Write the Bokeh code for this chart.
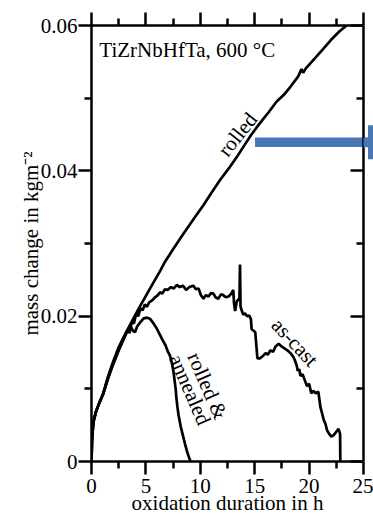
from bokeh.plotting import figure
from bokeh.models import (LinearAxis, FixedTicker, Arrow, NormalHead, Label,
                          CustomJSTickFormatter)
from bokeh.embed import file_html
from bokeh.resources import INLINE

# ---- data: oxidation of TiZrNbHfTa at 600 °C (time in h, mass change in kg m^-2)
rolled_t = [0, 0.05, 0.17, 0.4, 0.7, 1.08, 1.5, 1.9, 2.46, 3.08, 3.69, 4.4, 5.0,
            5.53, 6.3, 6.76, 7.5, 8.2, 8.75, 9.5, 10.3, 11.0, 11.8, 12.6, 13.4,
            14.0, 14.7, 15.5, 16.3, 17.0, 17.7, 18.3, 19.0, 19.3, 19.45, 19.7,
            20.3, 21.2, 22.0, 22.8, 23.45]
rolled_m = [0, 0.0030, 0.0054, 0.0068, 0.0080, 0.0094, 0.0116, 0.0134, 0.0156,
            0.0175, 0.0192, 0.0212, 0.0228, 0.0242, 0.0262, 0.0275, 0.0292,
            0.0308, 0.0320, 0.0336, 0.0353, 0.0369, 0.0387, 0.0403, 0.0420,
            0.0434, 0.0450, 0.0466, 0.0481, 0.0495, 0.0505, 0.0516, 0.0530,
            0.0540, 0.0535, 0.0541, 0.0551, 0.0566, 0.0580, 0.0592, 0.0600]

ascast_t = [0, 0.05, 0.17, 0.4, 0.7, 1.08, 1.5, 1.9, 2.46, 3.0, 3.3, 3.5, 3.7,
            3.9, 4.1, 4.3, 4.5, 4.7, 4.9, 5.1, 5.3, 5.6, 5.85, 6.1, 6.3, 6.5,
            6.75, 7.0, 7.3, 7.55, 7.85, 8.1, 8.4, 8.7, 9.0, 9.35, 9.6, 9.85,
            10.05, 10.3, 10.5, 10.75, 11.0, 11.2, 11.4, 11.65, 11.9, 12.1,
            12.35, 12.6, 12.85, 13.03, 13.1, 13.2, 13.35, 13.5, 13.6, 13.65,
            13.7, 13.85, 13.95, 14.1, 14.3, 14.5, 14.65, 14.72, 14.9, 15.05,
            15.15, 15.25, 15.5, 15.8, 16.0, 16.2, 16.45, 16.7, 16.9, 17.2, 17.5,
            17.8, 18.0, 18.3, 18.55, 18.7, 18.86, 18.95, 19.1, 19.2, 19.4, 19.6,
            19.8, 20.0, 20.2, 20.4, 20.6, 20.85, 20.95, 21.05, 21.2, 21.35,
            21.5, 21.65, 21.85, 22.05, 22.3, 22.5, 22.7, 22.85, 22.87]
ascast_m = [0, 0.0030, 0.0054, 0.0068, 0.0080, 0.0093, 0.0114, 0.0131, 0.0152,
            0.0170, 0.0180, 0.0177, 0.0192, 0.0190, 0.0203, 0.0200, 0.0211,
            0.0208, 0.0216, 0.0213, 0.0219, 0.0222, 0.0226, 0.0229, 0.0233,
            0.0231, 0.0237, 0.0236, 0.0240, 0.0238, 0.0243, 0.0240, 0.0242,
            0.0236, 0.0240, 0.0242, 0.0237, 0.0238, 0.0229, 0.0224, 0.0229,
            0.0227, 0.0232, 0.0231, 0.0226, 0.0224, 0.0230, 0.0229, 0.0226,
            0.0227, 0.0231, 0.0236, 0.0218, 0.0207, 0.0220, 0.0223, 0.0225,
            0.0271, 0.0213, 0.0206, 0.0202, 0.0204, 0.0200, 0.0201, 0.0196,
            0.0182, 0.0180, 0.0178, 0.0160, 0.0142, 0.0142, 0.0146, 0.0149,
            0.0147, 0.0153, 0.0151, 0.0158, 0.0162, 0.0158, 0.0155, 0.0153,
            0.0149, 0.0144, 0.0139, 0.0132, 0.0125, 0.0127, 0.0118, 0.0120,
            0.0112, 0.0104, 0.0107, 0.0094, 0.0097, 0.0094, 0.0096, 0.0085,
            0.0074, 0.0066, 0.0057, 0.0052, 0.0043, 0.0038, 0.0034, 0.0037,
            0.0041, 0.0045, 0.0038, 0.0]

annealed_t = [0, 0.05, 0.17, 0.4, 0.7, 1.08, 1.5, 1.9, 2.5, 3.0, 3.3, 3.6, 3.8,
              4.0, 4.2, 4.5, 4.8, 5.1, 5.4, 5.7, 6.0, 6.2, 6.5, 6.8, 7.0, 7.2,
              7.4, 7.55, 7.65, 7.75, 7.8, 7.9, 8.0, 8.2, 8.4, 8.6, 8.8, 9.0, 9.1]
annealed_m = [0, 0.0030, 0.0054, 0.0068, 0.0080, 0.0093, 0.0113, 0.0130,
              0.0153, 0.0170, 0.0180, 0.0186, 0.0180, 0.0178, 0.0186, 0.0192,
              0.0197, 0.0198, 0.0196, 0.0190, 0.0183, 0.0177, 0.0168, 0.0160,
              0.0152, 0.0146, 0.0135, 0.0122, 0.0110, 0.0098, 0.0088, 0.0075,
              0.0064, 0.0048, 0.0036, 0.0024, 0.0013, 0.0004, 0.0]

x_ticks = [0, 5, 10, 15, 20, 25]
x_minor_ticks = [2.5, 7.5, 12.5, 17.5, 22.5]
y_ticks = [0, 0.02, 0.04, 0.06]
y_minor_ticks = [0.01, 0.03, 0.05]
y_tick_labels = ["0", "0.02", "0.04", "0.06"]

FONT = "Liberation Serif"
BLUE = "#4a78b5"
POINTER_Y = 0.04395   # height of the blue pointer

p = figure(width=373, height=517, x_range=(0, 25), y_range=(0, 0.06),
           output_backend="svg", toolbar_location=None,
           min_border_left=91, min_border_right=10,
           min_border_top=25, min_border_bottom=55,
           background_fill_color="white", border_fill_color="white")
p.outline_line_color = None
p.xgrid.visible = False
p.ygrid.visible = False

blank = CustomJSTickFormatter(code="return ''")


def style(ax, inward=False):
    ax.axis_line_width = 2.5
    ax.major_tick_line_width = 2.5
    ax.minor_tick_line_width = 2.5
    if inward:
        ax.major_tick_in, ax.major_tick_out = 13, 0
        ax.minor_tick_in, ax.minor_tick_out = 7, 0
    else:
        ax.major_tick_in, ax.major_tick_out = 0, 13
        ax.minor_tick_in, ax.minor_tick_out = 0, 7
    ax.major_label_text_font = FONT
    ax.major_label_text_font_size = "21px"
    ax.major_label_text_color = "black"
    ax.axis_label_text_font = FONT
    ax.axis_label_text_font_size = "21px"
    ax.axis_label_text_font_style = "normal"
    ax.axis_label_text_color = "black"


xt = FixedTicker(ticks=x_ticks, minor_ticks=x_minor_ticks)
yt = FixedTicker(ticks=y_ticks, minor_ticks=y_minor_ticks)

bx = p.xaxis[0]
bx.ticker = xt
style(bx)
bx.major_label_standoff = 4
bx.axis_label = "oxidation duration in h"
bx.axis_label_standoff = -5

ly = p.yaxis[0]
ly.ticker = yt
style(ly)
ly.major_label_overrides = dict(zip(y_ticks, y_tick_labels))
ly.major_label_standoff = 1
ly.axis_label = "mass change in kgm⁻²"
ly.axis_label_standoff = -5

top = LinearAxis(ticker=xt, formatter=blank)
style(top)
p.add_layout(top, "above")

right = LinearAxis(ticker=yt, formatter=blank, major_label_standoff=0)
style(right, inward=True)
p.add_layout(right, "right")

# ---- curves
p.line(rolled_t, rolled_m, line_color="black", line_width=2.7)
p.line(ascast_t, ascast_m, line_color="black", line_width=2.7)
p.line(annealed_t, annealed_m, line_color="black", line_width=2.7)

# ---- in-plot annotations
text_style = dict(text_font=FONT, text_font_size="21px", text_color="black")
p.add_layout(Label(x=0.72, y=0.0566, text="TiZrNbHfTa, 600 °C",
                   text_align="left", text_baseline="alphabetic", **text_style))

curve_text = dict(text_align="center", text_baseline="middle", **text_style)
p.add_layout(Label(x=13.42, y=0.0450, text="rolled", angle=0.90, **curve_text))
p.add_layout(Label(x=18.70, y=0.0164, text="as-cast", angle=-0.82, **curve_text))
p.add_layout(Label(x=10.66, y=0.0104, text="rolled &", angle=-1.16, **curve_text))
p.add_layout(Label(x=9.05, y=0.0099, text="annealed", angle=-1.16, **curve_text))

# ---- blue pointer: shaft inside the frame ...
hidden_head = dict(fill_alpha=0, line_alpha=0)
p.add_layout(Arrow(x_start=15.03, y_start=POINTER_Y, x_end=30.47, y_end=POINTER_Y,
                   line_color=BLUE, line_width=9.5, line_cap="butt",
                   level="underlay", end=NormalHead(size=60, **hidden_head)))
p.add_layout(Arrow(x_start=25.41, y_start=POINTER_Y, x_end=28.54, y_end=POINTER_Y,
                   line_color=BLUE, line_width=40, line_cap="butt",
                   level="underlay", end=NormalHead(size=34, **hidden_head)))

# ... and its continuation past the right axis, drawn as one wide tick pair
# (thin major tick = shaft, thick minor tick = start of the head)
pointer_axis = LinearAxis(ticker=FixedTicker(ticks=[POINTER_Y], minor_ticks=[POINTER_Y]),
                          formatter=blank, major_label_standoff=0,
                          axis_line_color=None,
                          major_tick_line_color=BLUE, major_tick_line_width=9.5,
                          major_tick_in=0, major_tick_out=10,
                          minor_tick_line_color=BLUE, minor_tick_line_width=30,
                          minor_tick_in=-5, minor_tick_out=10)
p.add_layout(pointer_axis, "right")

open("out.html", "w").write(file_html(p, INLINE))
